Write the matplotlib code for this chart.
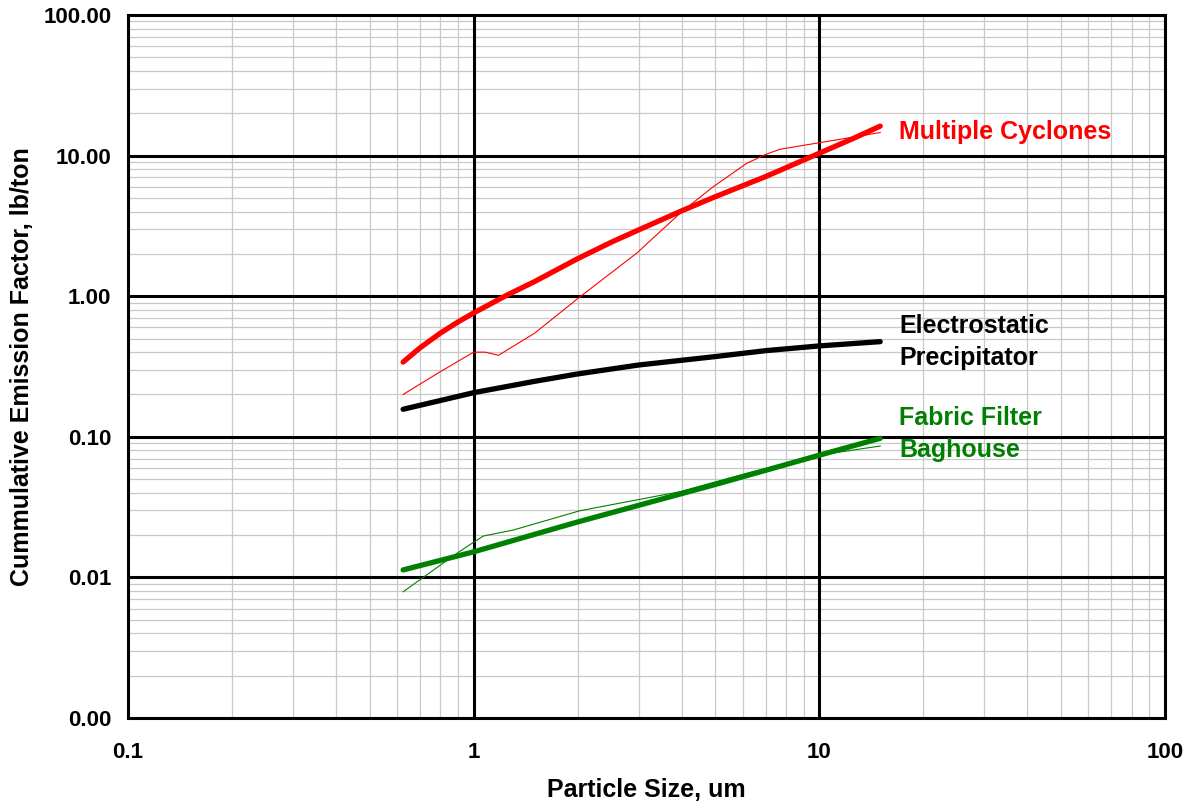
import numpy as np
import matplotlib.pyplot as plt
from matplotlib.ticker import FixedLocator, FixedFormatter, LogLocator, NullFormatter

plt.rcParams['font.family'] = ['Liberation Sans', 'DejaVu Sans']
plt.rcParams['font.weight'] = 'bold'

# -----------------------------------------------------------------------
# Data (particle size um, lb/ton)
# -----------------------------------------------------------------------
cyc_fit_x = [0.625, 0.7, 0.8, 0.9, 1.0, 1.25, 1.5, 2.0, 2.5, 3.0, 4.0, 5.0, 7.0, 10.0, 12.5, 15.0]
cyc_fit_y = [0.34, 0.43, 0.545, 0.655, 0.76, 1.02, 1.27, 1.85, 2.42, 2.96, 4.05, 5.1, 7.1, 10.4, 13.2, 16.2]

cyc_raw_x = [0.625, 0.8, 1.0, 1.08, 1.18, 1.5, 2.03, 2.96, 4.0, 4.93, 6.16, 7.0, 7.7, 10.1, 12.0, 15.0]
cyc_raw_y = [0.20, 0.29, 0.40, 0.40, 0.38, 0.545, 0.99, 2.02, 3.99, 6.0, 8.8, 10.2, 11.1, 12.4, 13.3, 14.6]

esp_x = [0.625, 0.8, 1.0, 1.5, 2.0, 3.0, 5.0, 7.0, 10.0, 15.0]
esp_y = [0.157, 0.181, 0.206, 0.248, 0.28, 0.324, 0.372, 0.41, 0.443, 0.475]

ff_fit_x = [0.625, 1.0, 2.0, 5.0, 10.0, 15.0]
ff_fit_y = [0.0113, 0.0152, 0.0248, 0.0458, 0.074, 0.0975]

ff_raw_x = [0.625, 0.8, 0.893, 1.0, 1.067, 1.3, 2.03, 3.95, 6.16, 10.1, 15.0]
ff_raw_y = [0.0079, 0.0122, 0.0148, 0.0178, 0.0197, 0.0217, 0.0298, 0.0407, 0.055, 0.0743, 0.086]

x_ticks = [0.1, 1, 10, 100]
x_labels = ["0.1", "1", "10", "100"]
y_ticks = [0.001, 0.01, 0.1, 1, 10, 100]
y_labels = ["0.00", "0.01", "0.10", "1.00", "10.00", "100.00"]

RED = "#ff0000"
GREEN = "#008000"

fig = plt.figure(figsize=(11.88, 8.05), dpi=100)
ax = fig.add_axes([128 / 1188, 1 - 718 / 805, (1165 - 128) / 1188, (718 - 15) / 805])
ax.set_xscale("log")
ax.set_yscale("log")
ax.set_xlim(0.1, 100)
ax.set_ylim(0.001, 100)

# light minor grid, heavy black lines at each decade
ax.xaxis.set_minor_locator(LogLocator(base=10, subs=np.arange(2, 10)))
ax.yaxis.set_minor_locator(LogLocator(base=10, subs=np.arange(2, 10)))
ax.xaxis.set_minor_formatter(NullFormatter())
ax.yaxis.set_minor_formatter(NullFormatter())
ax.grid(which="minor", color="#c8c8c8", lw=0.9)
ax.set_axisbelow(True)
for xv in x_ticks[1:-1]:
    ax.axvline(xv, color="black", lw=2.2, zorder=1)
for yv in y_ticks[1:-1]:
    ax.axhline(yv, color="black", lw=2.2, zorder=1)

ax.xaxis.set_major_locator(FixedLocator(x_ticks))
ax.xaxis.set_major_formatter(FixedFormatter(x_labels))
ax.yaxis.set_major_locator(FixedLocator(y_ticks))
ax.yaxis.set_major_formatter(FixedFormatter(y_labels))
ax.tick_params(which="both", length=0)
ax.tick_params(axis="x", labelsize=16, pad=17)
ax.tick_params(axis="y", labelsize=16, pad=12)

for sp in ax.spines.values():
    sp.set_linewidth(2.2)
    sp.set_zorder(3)

# curves
ax.plot(cyc_raw_x, cyc_raw_y, color=RED, lw=0.8)
ax.plot(cyc_fit_x, cyc_fit_y, color=RED, lw=3.8, solid_capstyle="round")
ax.plot(esp_x, esp_y, color="black", lw=3.8, solid_capstyle="round")
ax.plot(ff_raw_x, ff_raw_y, color=GREEN, lw=0.8)
ax.plot(ff_fit_x, ff_fit_y, color=GREEN, lw=3.8, solid_capstyle="round")

# series labels
ax.text(17.0, 14.8, "Multiple Cyclones", color=RED, fontsize=18,
        fontweight="bold", va="center", ha="left")
ax.text(17.0, 0.475, "Electrostatic\nPrecipitator", color="black", fontsize=18,
        fontweight="bold", va="center", ha="left", linespacing=1.42)
ax.text(17.0, 0.104, "Fabric Filter\nBaghouse", color=GREEN, fontsize=18,
        fontweight="bold", va="center", ha="left", linespacing=1.42)

ax.set_xlabel("Particle Size, um", fontsize=18, fontweight="bold")
ax.set_ylabel("Cummulative Emission Factor, lb/ton", fontsize=18, fontweight="bold")
ax.xaxis.set_label_coords(0.4995, -0.1024)
ax.yaxis.set_label_coords(-0.1022, 0.5)
ax.xaxis.label.set_va("center")
ax.yaxis.label.set_va("center")

fig.savefig("out.png", dpi=100)
